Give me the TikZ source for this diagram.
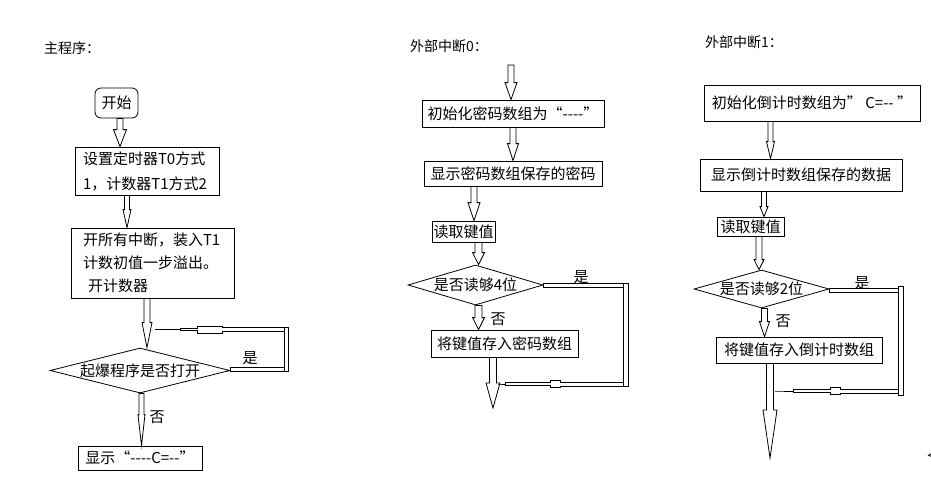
\documentclass[tikz,border=0pt]{standalone}
\usepackage{fontspec}
\setmainfont{Noto Sans CJK SC}[Ligatures=TeXOff]
\usetikzlibrary{shapes.geometric,calc}
% down block arrow: from, to, x(px), head length, shaft half width, head half width
\newcommand\blkdown[6]{\draw[blk] let \p1=(#1), \p2=(#2) in
  (#3pt-#5pt,\y1) -- (#3pt-#5pt,\y2+#4pt) -- (#3pt-#6pt,\y2+#4pt) -- (#3pt,\y2)
  -- (#3pt+#6pt,\y2+#4pt) -- (#3pt+#5pt,\y2+#4pt) -- (#3pt+#5pt,\y1) -- cycle;}
% left arrow: right end, tip, shaft length, bulge length, thin length
\newcommand\blkleft[5]{\draw[blk] let \p1=(#1), \p2=(#2) in
  (\x1,\y2+2pt) -- (\x1-#3pt,\y2+2pt) -- (\x1-#3pt,\y2+3.5pt)
  -- (\x1-#3pt-#4pt,\y2+3.5pt) -- (\x1-#3pt-#4pt,\y2+1.3pt)
  -- (\x1-#3pt-#4pt-#5pt,\y2+1.3pt) -- (\x1-#3pt-#4pt-#5pt,\y2) -- (\x2,\y2)
  -- (\x1-#3pt-#4pt-#5pt,\y2) -- (\x1-#3pt-#4pt-#5pt,\y2-1.3pt)
  -- (\x1-#3pt-#4pt,\y2-1.3pt) -- (\x1-#3pt-#4pt,\y2-3.5pt)
  -- (\x1-#3pt,\y2-3.5pt) -- (\x1-#3pt,\y2-2pt) -- (\x1,\y2-2pt) -- cycle;}
\begin{document}
\begin{tikzpicture}[x=1pt,y=-1pt,
  every node/.style={inner sep=0pt},
  box/.style={draw, line width=0.8pt, font=\fontsize{15}{18}\selectfont, inner xsep=1pt},
  mbox/.style={draw, line width=0.8pt, align=left},
  dia/.style={draw, diamond, line width=0.8pt, inner sep=0pt},
  lbl/.style={font=\fontsize{15}{18}\selectfont},
  title/.style={font=\fontsize{14}{17}\selectfont, anchor=west},
  blk/.style={draw, fill=white, line width=0.8pt, line join=miter}]
\useasboundingbox (0,0) rectangle (931,485);

% ---- main program
\node[title] (t1) at (44,48) {主程序：};
\node[box, rounded corners=6pt, minimum width=43pt, minimum height=30pt] (start) at (116.5,103) {开始};
\node[mbox, font=\fontsize{15}{25}\selectfont, minimum height=48pt, inner xsep=8pt, text width=128pt] (b1) at (147,171) {设置定时器T0方式\\1，计数器T1方式2};
\node[mbox, font=\fontsize{15}{23}\selectfont, minimum height=70pt, inner xsep=12pt, text width=139pt] (b2) at (152.5,263) {开所有中断，装入T1\\计数初值一步溢出。\\\hspace*{5pt}开计数器};
\node[dia, minimum width=180pt, minimum height=45pt, label={[lbl]center:起爆程序是否打开}] (d1) at (140,370.5) {};
\node[box, minimum width=124pt, minimum height=24pt] (disp) at (140,458) {显示“----C=--”};
\node[lbl] (y1) at (250,358) {是};
\node[lbl] (n1) at (157,417) {否};
\blkdown{start.south}{b1.north}{120}{17}{3}{6.5}
\blkdown{b1.south}{b2.north}{127}{18}{2.5}{4}
\blkdown{b2.south}{d1.north}{147}{25}{3}{5}
\blkdown{d1.south}{disp.north}{141.5}{31}{2.5}{3.5}
\coordinate (r1b) at (286,369.5);
\coordinate (r1t) at (286,329.5);
\coordinate (tip1) at (155,329.5);
\draw[blk] let \p1=(d1.east), \p2=(r1b) in (\x1,\y2+2pt) rectangle (\x2,\y2-2pt);
\blkleft{r1t}{tip1}{64}{25}{17}
\draw[blk] let \p1=(r1t), \p2=(r1b) in (\x1-2pt,\y1+2pt) rectangle (\x1+2pt,\y2-2pt);

% ---- external interrupt 0
\node[title] (t2) at (410,46) {外部中断0：};
\coordinate (c0) at (511,65);
\node[box, minimum width=182pt, minimum height=27pt] (c1) at (513,113.5) {初始化密码数组为“----”};
\node[box, minimum width=178pt, minimum height=25pt] (c2) at (513,173.5) {显示密码数组保存的密码};
\node[box, minimum width=63pt, minimum height=21pt] (c3) at (463.5,231.5) {读取键值};
\node[dia, minimum width=135pt, minimum height=40pt, label={[lbl]center:是否读够4位}] (c4) at (475.5,285) {};
\node[box, minimum width=147pt, minimum height=27pt] (c5) at (504.5,343.5) {将键值存入密码数组};
\coordinate (c6) at (493,408);
\node[lbl] (y2) at (581,277) {是};
\node[lbl] (n2) at (498,319) {否};
\blkdown{c0}{c1.north}{511}{17}{3}{6}
\blkdown{c1.south}{c2.north}{513}{17}{3}{5.5}
\blkdown{c2.south}{c3.north}{474}{18}{3}{6}
\blkdown{c3.south}{c4.north}{478.5}{12}{3.5}{6}
\blkdown{c4.south}{c5.north}{478.5}{12}{3.5}{6}
\blkdown{c5.south}{c6}{493}{25}{3.5}{7}
\coordinate (r2t) at (625.5,285);
\coordinate (r2b) at (625.5,384);
\coordinate (tip2) at (498,384);
\draw[blk] let \p1=(c4.east), \p2=(r2t) in (\x1,\y2+2pt) rectangle (\x2,\y2-2pt);
\blkleft{r2b}{tip2}{65.5}{10}{45}
\draw[blk] let \p1=(r2t), \p2=(r2b) in (\x1-2.5pt,\y1+2pt) rectangle (\x1+2.5pt,\y2-2pt);

% ---- external interrupt 1
\node[title] (t3) at (705,42) {外部中断1：};
\node[box, minimum width=216pt, minimum height=36pt] (e1) at (812,103) {初始化倒计时数组为” C=-- ”};
\node[box, minimum width=202pt, minimum height=32pt] (e2) at (801,175) {显示倒计时数组保存的数据};
\node[box, minimum width=67pt, minimum height=19pt] (e3) at (750.5,226.5) {读取键值};
\node[dia, minimum width=135pt, minimum height=38pt, label={[lbl]center:是否读够2位}] (e4) at (761.5,289) {};
\node[box, minimum width=166pt, minimum height=26pt] (e5) at (799,350) {将键值存入倒计时数组};
\coordinate (e6) at (770,458);
\node[lbl] (y3) at (862,283) {是};
\node[lbl] (n3) at (783,321) {否};
\blkdown{e1.south}{e2.north}{770.5}{17}{2.5}{4}
\blkdown{e2.south}{e3.north}{764}{10}{2.5}{4}
\blkdown{e3.south}{e4.north}{759}{10}{3}{5}
\blkdown{e4.south}{e5.north}{764.5}{15}{3}{5}
\blkdown{e5.south}{e6}{770}{48}{3.5}{7}
\coordinate (r3t) at (901,290);
\coordinate (r3b) at (901,391);
\coordinate (tip3) at (775,391);
\draw[blk] let \p1=(e4.east), \p2=(r3t) in (\x1,\y2+2pt) rectangle (\x2,\y2-2pt);
\blkleft{r3b}{tip3}{61}{10}{37}
\draw[blk] let \p1=(r3t), \p2=(r3b) in (\x1-2.5pt,\y1+4pt) rectangle (\x1+2.5pt,\y2-4pt);

\draw[line width=0.8pt] (931,454) -- (928.5,455.2) -- (931,456.4);
\end{tikzpicture}
\end{document}
